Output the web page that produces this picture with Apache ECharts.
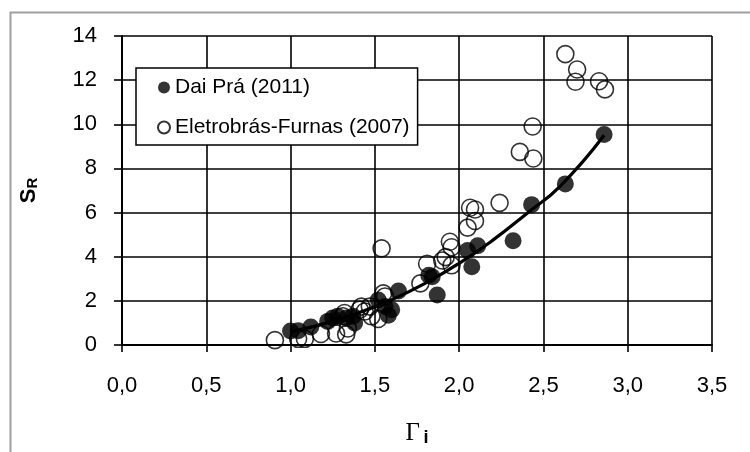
<!DOCTYPE html>
<html>
<head>
<meta charset="utf-8">
<script src="https://cdn.jsdelivr.net/npm/echarts@6/dist/echarts.min.js"></script>
<style>html,body{margin:0;padding:0;background:#fff}#c{width:750px;height:452px}</style>
</head>
<body>
<div id="c"></div>
<script>
// Dai Prá (2011) – filled circles
const daiPraX = [1.0, 1.046, 1.12, 1.22, 1.25, 1.28, 1.33, 1.37, 1.38, 1.52, 1.56, 1.58, 1.6, 1.64, 1.82, 1.84, 1.87, 2.05, 2.075, 2.11, 2.32, 2.43, 2.63, 2.86];
const daiPraY = [0.63, 0.65, 0.82, 1.07, 1.22, 1.3, 1.22, 1.3, 1.0, 2.04, 1.74, 1.35, 1.6, 2.45, 3.16, 3.09, 2.27, 4.28, 3.55, 4.5, 4.72, 6.36, 7.3, 9.54];
// Eletrobrás-Furnas (2007) – open circles
const eletroX = [0.907, 1.045, 1.085, 1.18, 1.27, 1.31, 1.32, 1.33, 1.34, 1.41, 1.42, 1.44, 1.47, 1.48, 1.52, 1.54, 1.55, 1.56, 1.77, 1.81, 1.9, 1.92, 1.945, 1.955, 1.955, 2.05, 2.065, 2.094, 2.094, 2.24, 2.36, 2.436, 2.44, 2.63, 2.69, 2.70, 2.83, 2.865];
const eletroY = [0.22, 0.28, 0.28, 0.5, 0.52, 1.3, 1.45, 0.48, 0.75, 1.6, 1.74, 1.52, 1.74, 1.3, 1.18, 4.38, 2.34, 2.2, 2.79, 3.68, 3.83, 3.98, 4.68, 4.43, 3.61, 5.32, 6.22, 6.14, 5.62, 6.44, 8.75, 9.9, 8.45, 13.18, 11.93, 12.48, 11.95, 11.58];
// trend curve
const trendX = [1.0, 1.2, 1.4, 1.6, 1.8, 2.0, 2.2, 2.4, 2.6, 2.86];
const trendY = [0.6, 0.97, 1.45, 2.05, 2.8, 3.7, 4.75, 5.95, 7.2, 9.5];

const seriesNames = ['Dai Prá (2011)', 'Eletrobrás-Furnas (2007)'];
const xTicks = {min: 0, max: 3.5, interval: 0.5};
const yTicks = {min: 0, max: 14, interval: 2};

const zip = (a, b) => a.map((v, i) => [v, b[i]]);
const chart = echarts.init(document.getElementById('c'), null, {renderer: 'canvas'});
const FONT = '"Liberation Sans", Arial, sans-serif';

chart.setOption({
  animation: false,
  backgroundColor: '#fff',
  graphic: [{
    type: 'rect', left: 8, top: 10, shape: {width: 800, height: 500},
    style: {fill: 'none', stroke: '#a0a0a0', lineWidth: 2}, silent: true, z: -1
  }],
  grid: {left: 122, right: 38, top: 36, bottom: 103},
  legend: {
    data: [
      {name: seriesNames[0], icon: 'circle'},
      {name: seriesNames[1], icon: 'circle'}
    ],
    orient: 'vertical', left: 136, top: 68,
    itemWidth: 12, itemHeight: 12, itemGap: 19,
    padding: [9, 8, 7, 21],
    borderColor: '#000', borderWidth: 1.5, backgroundColor: '#fff',
    textStyle: {fontFamily: FONT, fontSize: 21, color: '#000', lineHeight: 21}
  },
  xAxis: {
    type: 'value', min: xTicks.min, max: xTicks.max, interval: xTicks.interval,
    axisLine: {show: true, onZero: false, lineStyle: {color: '#000', width: 2}},
    axisTick: {show: true, length: 7, lineStyle: {color: '#000', width: 1.6}},
    splitLine: {show: true, lineStyle: {color: '#000', width: 1.6}},
    axisLabel: {fontFamily: FONT, fontSize: 22, color: '#000', margin: 30,
      formatter: v => v.toFixed(1).replace('.', ',')},
    name: '{g|Γ} {s|i}', nameLocation: 'middle', nameGap: 74,
    nameTextStyle: {rich: {
      g: {fontFamily: '"Liberation Serif", serif', fontSize: 25, color: '#000'},
      s: {fontFamily: FONT, fontSize: 18, fontWeight: 'bold', color: '#000', padding: [10, 0, 0, 0]}
    }}
  },
  yAxis: {
    type: 'value', min: yTicks.min, max: yTicks.max, interval: yTicks.interval,
    axisLine: {show: true, lineStyle: {color: '#000', width: 2}},
    axisTick: {show: true, length: 8, lineStyle: {color: '#000', width: 1.6}},
    splitLine: {show: true, lineStyle: {color: '#000', width: 1.6}},
    axisLabel: {fontFamily: FONT, fontSize: 22, color: '#000', margin: 25},
    name: '{a|S}{b|R}', nameLocation: 'middle', nameGap: 82, nameRotate: 90,
    nameTextStyle: {rich: {
      a: {fontFamily: FONT, fontSize: 22, fontWeight: 'bold', color: '#000'},
      b: {fontFamily: FONT, fontSize: 15, fontWeight: 'bold', color: '#000', padding: [8, 0, 0, 0]}
    }}
  },
  series: [
    {
      name: seriesNames[1], type: 'scatter', data: zip(eletroX, eletroY),
      symbol: 'circle', symbolSize: 17, z: 2,
      itemStyle: {color: 'rgba(255,255,255,0)', borderColor: '#000', borderWidth: 1.6}
    },
    {
      name: seriesNames[0], type: 'scatter', data: zip(daiPraX, daiPraY),
      symbol: 'circle', symbolSize: 17, z: 3,
      itemStyle: {color: '#000', borderColor: '#000', borderWidth: 0}
    },
    {
      name: 'trend', type: 'line', data: zip(trendX, trendY), smooth: true,
      showSymbol: false, symbol: 'none', z: 4,
      lineStyle: {color: '#000', width: 3.2}
    }
  ]
});
</script>
</body>
</html>
